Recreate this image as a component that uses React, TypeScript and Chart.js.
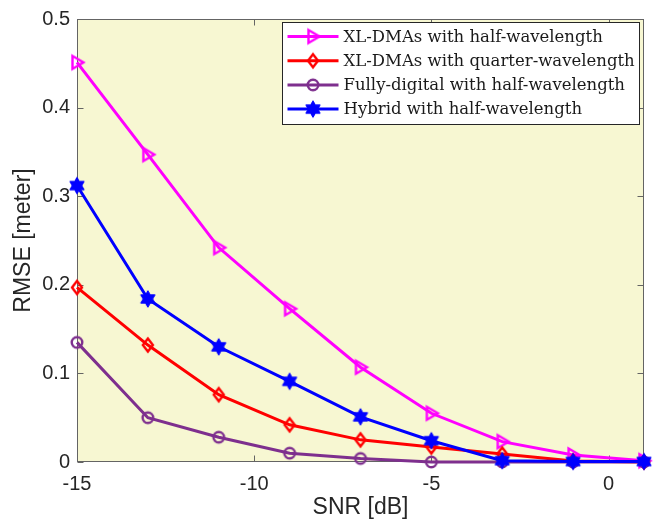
import { useEffect, useRef } from 'react';
import { Chart, registerables } from 'chart.js';

Chart.register(...registerables);

const snr = [-15, -13, -11, -9, -7, -5, -3, -1, 1];
const xlHalf = [0.451, 0.347, 0.242, 0.173, 0.107, 0.055, 0.023, 0.008, 0.0015];
const xlQuarter = [0.197, 0.132, 0.076, 0.042, 0.025, 0.017, 0.009, 0.001, 0];
const fullyDigital = [0.135, 0.05, 0.028, 0.01, 0.004, 0, 0, 0, 0];
const hybrid = [0.312, 0.184, 0.13, 0.091, 0.051, 0.024, 0.0015, 0.0005, 0.0005];

const seriesNames = [
  'XL-DMAs with half-wavelength',
  'XL-DMAs with quarter-wavelength',
  'Fully-digital with half-wavelength',
  'Hybrid with half-wavelength',
];
const seriesColors = ['#FF00FF', '#FF0000', '#7E2F8E', '#0000FF'];
const seriesMarkers = ['triangle', 'diamond', 'circle', 'hexagram'];

const xTicks = [-15, -10, -5, 0];
const yTicks = [0, 0.1, 0.2, 0.3, 0.4, 0.5];

const xTitle = 'SNR [dB]';
const yTitle = 'RMSE [meter]';

const TEXT = '#262626';
const SANS = '"Liberation Sans", Arial, Helvetica, sans-serif';

function makeMarker(kind: string, color: string): HTMLCanvasElement {
  const c = document.createElement('canvas');
  c.width = 24;
  c.height = 24;
  const g = c.getContext('2d')!;
  const cx = 12, cy = 12;
  g.strokeStyle = color;
  g.fillStyle = color;
  g.lineWidth = 2.4;
  g.lineJoin = 'miter';
  g.beginPath();
  if (kind === 'triangle') {
    g.moveTo(cx + 6.5, cy);
    g.lineTo(cx - 4.5, cy - 6.5);
    g.lineTo(cx - 4.5, cy + 6.5);
    g.closePath();
    g.stroke();
  } else if (kind === 'diamond') {
    g.moveTo(cx, cy - 6.5);
    g.lineTo(cx + 5, cy);
    g.lineTo(cx, cy + 6.5);
    g.lineTo(cx - 5, cy);
    g.closePath();
    g.stroke();
  } else if (kind === 'circle') {
    g.arc(cx, cy, 5.3, 0, Math.PI * 2);
    g.stroke();
  } else {
    const R = 8.3, r = R / Math.sqrt(3);
    for (let i = 0; i < 12; i++) {
      const a = -Math.PI / 2 + (i * Math.PI) / 6;
      const rr = i % 2 === 0 ? R : r;
      const px = cx + rr * Math.cos(a), py = cy + rr * Math.sin(a);
      if (i === 0) g.moveTo(px, py); else g.lineTo(px, py);
    }
    g.closePath();
    g.fill();
    g.lineWidth = 1;
    g.stroke();
  }
  return c;
}

export default function App() {
  const ref = useRef<HTMLCanvasElement>(null);

  useEffect(() => {
    if (!ref.current) return;
    const markers = seriesMarkers.map((m, i) => makeMarker(m, seriesColors[i]));
    const values = [xlHalf, xlQuarter, fullyDigital, hybrid];

    const bgPlugin = {
      id: 'bgFrame',
      beforeDatasetsDraw(chart: any) {
        const { ctx, chartArea: a, scales } = chart;
        ctx.save();
        ctx.fillStyle = 'rgb(247,247,210)';
        ctx.fillRect(a.left, a.top, a.right - a.left, a.bottom - a.top);
        ctx.strokeStyle = 'rgb(100,100,100)';
        ctx.lineWidth = 1;
        const L = Math.round(a.left) + 0.5, R = Math.round(a.right) - 0.5;
        const T = Math.round(a.top) + 0.5, B = Math.round(a.bottom) - 0.5;
        ctx.strokeRect(L, T, R - L, B - T);
        const tl = 6;
        ctx.beginPath();
        xTicks.forEach((v) => {
          const px = Math.round(scales.x.getPixelForValue(v)) + 0.5;
          ctx.moveTo(px, B);
          ctx.lineTo(px, B - tl);
          ctx.moveTo(px, T);
          ctx.lineTo(px, T + tl);
        });
        yTicks.forEach((v) => {
          const py = Math.round(scales.y.getPixelForValue(v)) + 0.5;
          ctx.moveTo(L, py);
          ctx.lineTo(L + tl, py);
          ctx.moveTo(R, py);
          ctx.lineTo(R - tl, py);
        });
        ctx.stroke();
        ctx.restore();
      },
    };

    const legendPlugin = {
      id: 'boxLegend',
      afterDraw(chart: any) {
        const { ctx, chartArea: a } = chart;
        const bx = Math.round(a.right) - 4.5 - 357;
        const by = Math.round(a.top) + 3.5;
        const bw = 357, bh = 102;
        ctx.save();
        ctx.fillStyle = '#ffffff';
        ctx.fillRect(bx, by, bw, bh);
        ctx.strokeStyle = '#262626';
        ctx.lineWidth = 1;
        ctx.strokeRect(bx, by, bw, bh);
        ctx.font = '16.5px "DejaVu Serif", serif';
        ctx.textBaseline = 'middle';
        ctx.textAlign = 'left';
        seriesNames.forEach((name, i) => {
          const cy = by + 14 + i * 24.2;
          ctx.strokeStyle = seriesColors[i];
          ctx.lineWidth = 3;
          ctx.beginPath();
          ctx.moveTo(bx + 5, cy);
          ctx.lineTo(bx + 56, cy);
          ctx.stroke();
          const m = markers[i];
          ctx.drawImage(m, bx + 30.5 - m.width / 2, cy - m.height / 2);
          ctx.fillStyle = '#1a1a1a';
          ctx.fillText(name, bx + 61, cy + 1);
        });
        ctx.restore();
      },
    };

    const chart = new Chart(ref.current, {
      type: 'line',
      data: {
        datasets: values.map((vals, i) => ({
          label: seriesNames[i],
          data: snr.map((x, j) => ({ x, y: vals[j] })),
          borderColor: seriesColors[i],
          backgroundColor: seriesColors[i],
          borderWidth: 3,
          pointStyle: markers[i] as any,
          pointRadius: 8,
          pointHoverRadius: 8,
          tension: 0,
          clip: false as any,
          order: 4 - i,
        })),
      },
      options: {
        animation: false,
        responsive: false,
        maintainAspectRatio: false,
        events: [],
        layout: { padding: { left: 0, right: 21, top: 16, bottom: 0 } },
        plugins: { legend: { display: false }, tooltip: { enabled: false } },
        scales: {
          x: {
            type: 'linear',
            min: -15,
            max: 1,
            grid: { display: false, drawTicks: false },
            border: { display: false },
            afterBuildTicks: (s: any) => {
              s.ticks = xTicks.map((v) => ({ value: v }));
            },
            afterFit: (s: any) => {
              s.height = 59;
            },
            ticks: {
              padding: 10,
              color: TEXT,
              font: { family: SANS, size: 20 },
              maxRotation: 0,
              autoSkip: false,
              callback: (v: any) => String(v),
            },
            title: {
              display: true,
              text: xTitle,
              color: TEXT,
              font: { family: SANS, size: 23 },
              padding: { top: 0, bottom: 0 },
            },
          },
          y: {
            type: 'linear',
            min: 0,
            max: 0.5,
            grid: { display: false, drawTicks: false },
            border: { display: false },
            afterBuildTicks: (s: any) => {
              s.ticks = yTicks.map((v) => ({ value: v }));
            },
            afterFit: (s: any) => {
              s.width = 77;
            },
            ticks: {
              padding: 7,
              color: TEXT,
              font: { family: SANS, size: 20 },
              autoSkip: false,
              callback: (v: any) => String(Math.round(Number(v) * 10) / 10),
            },
            title: {
              display: true,
              text: yTitle,
              color: TEXT,
              font: { family: SANS, size: 23 },
              padding: { top: 10, bottom: 0 },
            },
          },
        },
      },
      plugins: [bgPlugin, legendPlugin],
    });
    return () => chart.destroy();
  }, []);

  return (
    <div style={{ position: 'absolute', left: 0, top: 0, width: 665, height: 521, background: '#fff' }}>
      <canvas ref={ref} width={665} height={521} style={{ display: 'block' }} />
    </div>
  );
}
